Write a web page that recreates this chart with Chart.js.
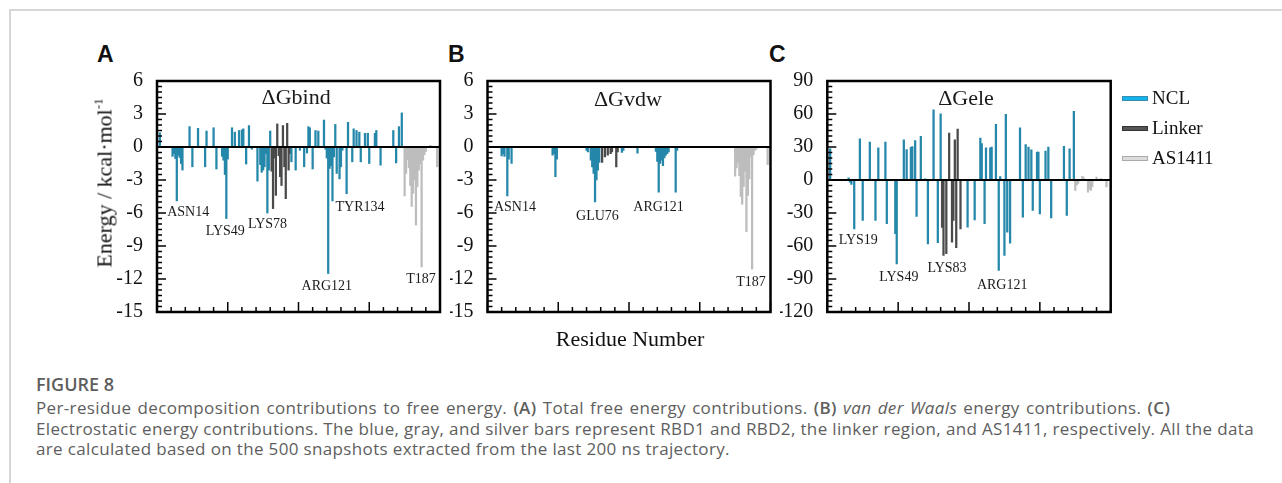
<!DOCTYPE html>
<html>
<head>
<meta charset="utf-8">
<script src="https://cdn.jsdelivr.net/npm/chart.js@4.4.0/dist/chart.umd.min.js"></script>
<style>
body{margin:0;background:#fff;width:1282px;height:483px;overflow:hidden;position:relative;font-family:"Liberation Serif",serif}
#frame{position:absolute;left:9px;top:9px;width:1290px;height:500px;border-top:2px solid #d6d6d6;border-left:2px solid #d6d6d6}
canvas{position:absolute}
.letter{position:absolute;font:bold 23px "Liberation Sans",Arial,sans-serif;color:#111;line-height:23px}
.ytitle{position:absolute;left:104px;top:183px;transform:translate(-50%,-50%) rotate(-90deg);white-space:nowrap;font-size:22px;color:#111}
.ytitle sup{font-size:13px;vertical-align:9px}
.xtitle{position:absolute;left:530px;width:200px;top:326px;text-align:center;font-size:22px;color:#111;line-height:26px}
.leg{position:absolute;left:1122px;font-size:19px;color:#111;line-height:20px}
.leg span{position:absolute;left:0;top:8px;width:24px;height:3px}
.leg b{position:absolute;left:30px;top:0;font-weight:normal;white-space:nowrap}
#cap{position:absolute;left:36px;top:372px;width:1240px;color:#5e5e5e;font-family:"Open Sans",sans-serif}
#cap .h{font-weight:600;font-size:18px;line-height:24px;margin-bottom:2px}
#cap .t{font-size:17px;line-height:20.6px;white-space:nowrap;letter-spacing:0.35px}
#cap .w{word-spacing:1.5px}
#cap .t b{font-weight:600}
</style>
</head>
<body>
<div id="frame"></div>

<div class="letter" style="left:97px;top:43px">A</div>
<div class="letter" style="left:448px;top:43px">B</div>
<div class="letter" style="left:769px;top:43px">C</div>

<canvas id="chartA" width="390" height="270" style="left:60px;top:60px"></canvas>
<canvas id="chartB" width="331" height="270" style="left:450px;top:60px"></canvas>
<canvas id="chartC" width="341" height="270" style="left:780px;top:60px"></canvas>

<div class="ytitle">Energy / kcal·mol<sup>-1</sup></div>
<div class="xtitle">Residue Number</div>

<div class="leg" style="top:88px"><span style="background:#12b3ea;border:1px solid #3a8cb0"></span><b>NCL</b></div>
<div class="leg" style="top:118px"><span style="background:#555;border:1px solid #333"></span><b>Linker</b></div>
<div class="leg" style="top:148px"><span style="background:#dcdcdc;border:1px solid #aaa"></span><b>AS1411</b></div>

<div id="cap">
<div class="h">FIGURE 8</div>
<div class="t w">Per-residue decomposition contributions to free energy. <b>(A)</b> Total free energy contributions. <b>(B)</b> <i>van der Waals</i> energy contributions. <b>(C)</b></div>
<div class="t">Electrostatic energy contributions. The blue, gray, and silver bars represent RBD1 and RBD2, the linker region, and AS1411, respectively. All the data</div>
<div class="t">are calculated based on the 500 snapshots extracted from the last 200 ns trajectory.</div>
</div>

<script>
// цвета групп
const COL_NCL = '#2587aa';
const COL_LINK = '#4a4a4a';
const COL_AS = '#bdbdbd';

// ΔGbind: [остаток, энергия]
const bindNCL = [[2,1.3],[11,-0.85],[12,-0.6],[13,-1.05],[14,-4.9],[15,-0.75],[16,-0.95],[17,-1.5],[18,-2.1],
  [23,1.85],[25,-1.8],[29,1.7],[34,-1.8],[35,1.45],[40,1.75],[42,-2.0],[46,-0.85],[47,-1.2],[48,-2.5],[49,-6.5],[50,-1.1],
  [53,1.75],[55,1.35],[58,1.5],[60,1.55],[61,1.65],[63,-1.55],[65,1.95],[67,-0.2],[71,-3.1],[73,-1.6],[74,-2.3],[75,-2.1],
  [76,-1.8],[77,-0.6],[78,-6.0],[79,-2.1],[80,1.45],[95,-1.35],[98,-2.1],[101,-0.3],[104,-1.8],[106,-0.55],[107,1.85],
  [108,1.75],[110,-2.0],[112,1.5],[114,1.45],[118,2.45],[119,-0.2],[120,-1.0],[121,-11.5],[122,-1.95],[123,-1.7],[124,-4.9],
  [125,-0.9],[126,2.05],[127,-2.4],[129,-2.9],[130,-1.8],[131,-0.3],[134,-4.25],[135,2.25],[138,-1.35],[139,1.65],[141,1.5],
  [143,1.35],[144,-1.35],[147,1.25],[149,1.25],[150,-1.5],[154,1.25],[155,1.5],[158,-1.65],[167,1.5],[169,-1.45],[171,1.85],[173,3.1]];
const bindLinker = [[81,-2.2],[82,-5.6],[83,-1.0],[84,-4.4],[85,2.1],[86,-0.8],[87,-2.7],[88,-3.5],[89,1.95],[90,-1.8],
  [91,-4.7],[92,2.15],[93,-2.1],[94,-0.6]];
const bindAS = [[175,-4.45],[176,-2.4],[177,-1.15],[178,-1.9],[179,-3.5],[180,-5.4],[181,-4.2],[182,-3.0],[183,-7.1],
  [184,-3.6],[185,-2.1],[186,-1.5],[187,-10.9],[188,-1.2],[189,-0.7],[190,-0.4],[193,0.15],[194,0.1],[198,-1.8]];

// ΔGvdw
const vdwNCL = [[10,-0.8],[11,-0.6],[12,-0.85],[14,-4.45],[15,-1.1],[17,-1.5],[46,-0.75],[47,-0.6],[48,-2.7],[49,-1.1],
  [70,-0.3],[71,-0.45],[73,-1.2],[74,-1.8],[75,-2.4],[76,-5.0],[77,-3.0],[78,-2.1],[79,-1.4],[95,-0.5],[96,-0.3],[106,-0.55],
  [119,-0.4],[120,-1.3],[121,-4.1],[122,-1.5],[123,-1.2],[124,-1.7],[125,-1.0],[126,-0.75],[127,-0.6],[128,-0.45],[133,-4.1],[134,-0.3]];
const vdwLinker = [[81,-1.4],[83,-0.9],[85,-0.75],[87,-0.6],[88,-0.45],[91,-1.8],[92,-0.45]];
const vdwAS = [[175,-2.65],[176,-1.9],[177,-1.4],[178,-2.6],[179,-4.5],[180,-5.2],[181,-3.6],[182,-2.2],[183,-7.7],
  [184,-4.4],[185,-2.9],[186,-0.9],[187,-11.1],[188,-0.7],[189,-0.3],[190,-0.2],[198,-1.6]];

// ΔGele
const eleNCL = [[2,28.4],[15,2],[16,-2],[17,-4],[19,-44.4],[23,37.4],[25,-36.8],[30,34.4],[34,-36.8],[36,29.3],[41,34.4],
  [42,-39.8],[48,-48.9],[49,-76.2],[54,36.5],[56,27.7],[59,29.8],[60,30.4],[62,35.9],[63,-33.2],[66,39.8],[69,1],[71,-58],
  [75,63.8],[78,-57],[80,60.2],[99,-42.9],[104,-36.2],[108,38],[109,33],[111,-39.8],[112,29.3],[115,29.3],[116,29.9],
  [119,50.5],[121,-82.3],[122,3],[125,-68.6],[126,59.6],[127,-47.4],[129,-57.4],[136,47.4],[138,-33.8],[140,32.3],
  [142,29.9],[144,27.5],[145,-27.7],[148,25.4],[149,25.4],[150,-30.8],[154,26.3],[156,29.9],[158,-34.4],[167,30.5],
  [169,-32.3],[171,28.4],[174,62.4]];
const eleLinker = [[81,-43],[82,-68.6],[84,-67],[86,42.6],[88,-56.5],[89,-36.8],[90,36.5],[91,-61.6],[92,46.2],[94,-44.4]];
const eleAS = [[175,-9.4],[176,-4.8],[177,-3],[180,3.3],[181,2],[184,-11],[185,-8],[186,-9.4],[187,-6.4],[190,2.7],[193,1.2],[197,-6.4]];

// подписи остатков
const labelsA = [['ASN14',22,-5.9],['LYS49',48.3,-7.65],['LYS78',78.1,-7.05],['ARG121',120,-12.65],['TYR134',143.5,-5.45],['T187',186.6,-12.05]];
const labelsB = [['ASN14',19.4,-5.45],['GLU76',77.7,-6.27],['ARG121',120.9,-5.45],['T187',186.2,-12.27]];
const labelsC = [['LYS19',21.9,-55],['LYS49',50.5,-88.9],['LYS83',84.5,-80.2],['ARG121',123.4,-95.3]];

function ds(pairs, color) {
    return {data: pairs.map(p => ({x: p[0], y: p[1]})), backgroundColor: color, borderWidth: 0, barThickness: 1.6, grouped: false};
}

// рамка, засечки внутрь, нулевая линия и подписи
function makeFrame(cfg) {
    return {
        id: 'frame',
        afterDatasetsDraw(chart) {
            const {ctx, chartArea: a, scales: {x, y}} = chart;
            ctx.save();
            ctx.strokeStyle = '#000';
            ctx.lineWidth = 2;
            const y0 = y.getPixelForValue(0);
            ctx.beginPath(); ctx.moveTo(a.left, y0); ctx.lineTo(a.right, y0); ctx.stroke();
            ctx.lineWidth = 1.5;
            for (let v = y.min; v <= y.max + 1e-9; v += cfg.yMinor) {
                const p = y.getPixelForValue(v);
                const major = Math.abs(v / cfg.yMajor - Math.round(v / cfg.yMajor)) < 1e-6;
                ctx.beginPath(); ctx.moveTo(a.left, p); ctx.lineTo(a.left + (major ? 9 : 5), p); ctx.stroke();
            }
            for (let v = x.min; v <= x.max; v += 10) {
                const p = x.getPixelForValue(v);
                const major = v % 50 === 0;
                ctx.beginPath(); ctx.moveTo(p, a.bottom); ctx.lineTo(p, a.bottom - (major ? 10 : 5)); ctx.stroke();
            }
            ctx.lineWidth = 2.5;
            ctx.strokeRect(a.left, a.top, a.right - a.left, a.bottom - a.top);
            ctx.fillStyle = '#1a1a1a';
            ctx.textAlign = 'center';
            ctx.textBaseline = 'middle';
            ctx.font = '22px "Liberation Serif"';
            ctx.fillText(cfg.title, x.getPixelForValue(cfg.titleAt[0]), y.getPixelForValue(cfg.titleAt[1]));
            ctx.font = '14px "Liberation Serif"';
            cfg.labels.forEach(l => ctx.fillText(l[0], x.getPixelForValue(l[1]), y.getPixelForValue(l[2])));
            ctx.restore();
        }
    };
}

function draw(id, sets, yMin, yMax, yMajor, yMinor, yWidth, padRight, cfg) {
    cfg.yMajor = yMajor; cfg.yMinor = yMinor;
    return new Chart(document.getElementById(id), {
        type: 'bar',
        data: {datasets: [ds(sets[0], COL_NCL), ds(sets[1], COL_LINK), ds(sets[2], COL_AS)]},
        options: {
            responsive: false,
            animation: false,
            events: [],
            layout: {padding: {top: 21, right: padRight, bottom: 18, left: 0}},
            plugins: {legend: {display: false}, tooltip: {enabled: false}},
            scales: {
                x: {type: 'linear', min: 0, max: 200, display: false, offset: false},
                y: {
                    min: yMin, max: yMax,
                    ticks: {stepSize: yMajor, padding: 6, color: '#111', font: {family: 'Liberation Serif', size: 20}},
                    grid: {display: false},
                    border: {display: false},
                    afterFit: s => { s.width = yWidth; }
                }
            }
        },
        plugins: [makeFrame(cfg)]
    });
}

draw('chartA', [bindNCL, bindLinker, bindAS], -15, 6, 3, 0.5, 97, 10, {title: 'ΔGbind', titleAt: [98.3, 4.4], labels: labelsA});
draw('chartB', [vdwNCL, vdwLinker, vdwAS], -15, 6, 3, 0.5, 37.5, 10.5, {title: 'ΔGvdw', titleAt: [99.2, 4.25], labels: labelsB});
draw('chartC', [eleNCL, eleLinker, eleAS], -120, 90, 30, 5, 47.3, 10.3, {title: 'ΔGele', titleAt: [97.9, 73.8], labels: labelsC});
</script>
</body>
</html>
